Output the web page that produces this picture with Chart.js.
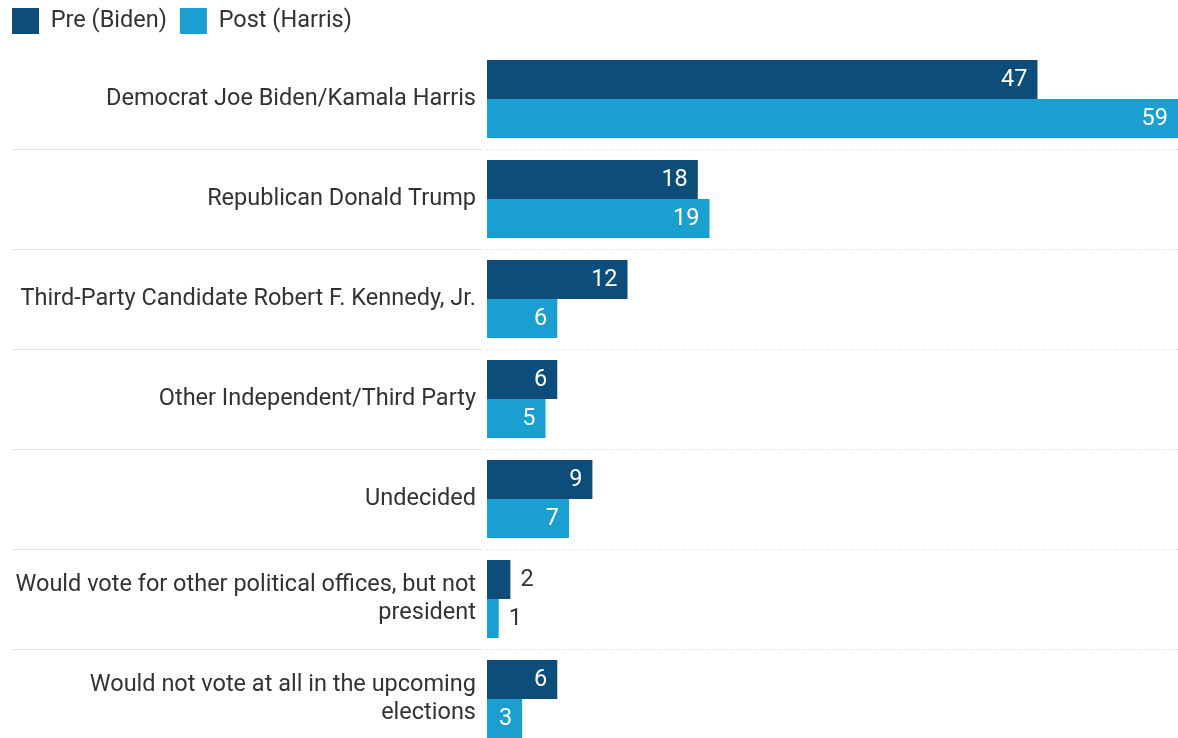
<!DOCTYPE html>
<html>
<head>
<meta charset="utf-8">
<script src="https://cdn.jsdelivr.net/npm/chart.js@4"></script>
<style>
  html, body { margin: 0; padding: 0; background: #fff; overflow: hidden; }
  #wrap { position: relative; width: 1178px; height: 749px; }
</style>
</head>
<body>
<div id="wrap"><canvas id="voteChart"></canvas></div>
<script>
const categories = [
    'Democrat Joe Biden/Kamala Harris',
    'Republican Donald Trump',
    'Third-Party Candidate Robert F. Kennedy, Jr.',
    'Other Independent/Third Party',
    'Undecided',
    ['Would vote for other political offices, but not', 'president'],
    ['Would not vote at all in the upcoming', 'elections']
];
const preBiden = [47, 18, 12, 6, 9, 2, 6];
const postHarris = [59, 19, 6, 5, 7, 1, 3];

const darkBlue = '#0c4e79';
const lightBlue = '#1b9fd0';
const textColor = '#333333';
const fontFamily = 'Roboto, "Noto Sans", sans-serif';
const fontSize = 23.5;

// light rules between the groups: solid under the labels, dotted across the bars
const separators = {
    id: 'separators',
    beforeDatasetsDraw(chart) {
        const { ctx, chartArea, scales: { y } } = chart;
        ctx.save();
        ctx.lineWidth = 1;
        for (let i = 1; i < categories.length; i++) {
            const yy = Math.round((y.getPixelForValue(i - 1) + y.getPixelForValue(i)) / 2) + 0.5;
            ctx.strokeStyle = '#e2e2e2';
            ctx.setLineDash([]);
            ctx.beginPath();
            ctx.moveTo(12, yy);
            ctx.lineTo(chartArea.left - 5, yy);
            ctx.stroke();
            ctx.strokeStyle = '#cfcfcf';
            ctx.setLineDash([1, 2]);
            ctx.beginPath();
            ctx.moveTo(chartArea.left, yy);
            ctx.lineTo(chart.width, yy);
            ctx.stroke();
        }
        ctx.restore();
    }
};

// value labels: inside the bar end in white, outside in dark when the bar is short
const valueLabels = {
    id: 'valueLabels',
    afterDatasetsDraw(chart) {
        const ctx = chart.ctx;
        ctx.save();
        ctx.font = fontSize + 'px ' + fontFamily;
        ctx.textBaseline = 'middle';
        chart.data.datasets.forEach((ds, di) => {
            chart.getDatasetMeta(di).data.forEach((bar, i) => {
                const w = bar.x - bar.base;
                if (w > 30) {
                    ctx.fillStyle = '#ffffff';
                    ctx.textAlign = 'right';
                    ctx.fillText(ds.data[i], bar.x - 10, bar.y + 1);
                } else {
                    ctx.fillStyle = textColor;
                    ctx.textAlign = 'left';
                    ctx.fillText(ds.data[i], bar.x + 10, bar.y + 1);
                }
            });
        });
        ctx.restore();
    }
};

// pull the legend up a bit so there is more air between it and the bars
const legendNudge = {
    id: 'legendNudge',
    afterLayout(chart) {
        chart.legend.top -= 5;
        chart.legend.bottom -= 5;
    }
};

new Chart(document.getElementById('voteChart'), {
    type: 'bar',
    data: {
        labels: categories,
        datasets: [{
            label: 'Pre (Biden)',
            data: preBiden,
            backgroundColor: darkBlue,
            categoryPercentage: 0.78,
            barPercentage: 1.0
        }, {
            label: 'Post (Harris)',
            data: postHarris,
            backgroundColor: lightBlue,
            categoryPercentage: 0.78,
            barPercentage: 1.0
        }]
    },
    options: {
        indexAxis: 'y',
        responsive: true,
        maintainAspectRatio: false,
        animation: false,
        layout: { padding: { left: -1, top: 0, right: 0, bottom: 0 } },
        scales: {
            x: {
                display: false,
                min: 0,
                max: 59
            },
            y: {
                grid: { display: false, drawTicks: false },
                border: { display: false },
                afterFit(scale) {
                    scale.width = 488;
                    scale.paddingTop = 0;
                    scale.paddingBottom = 0;
                },
                ticks: {
                    color: textColor,
                    padding: 11,
                    font: { family: fontFamily, size: fontSize, lineHeight: 1.17 }
                }
            }
        },
        plugins: {
            legend: {
                position: 'top',
                align: 'start',
                labels: {
                    boxWidth: 27,
                    boxHeight: 26,
                    padding: 13,
                    color: textColor,
                    font: { family: fontFamily, size: fontSize }
                }
            },
            tooltip: { enabled: false }
        }
    },
    plugins: [separators, valueLabels, legendNudge]
});
</script>
</body>
</html>
